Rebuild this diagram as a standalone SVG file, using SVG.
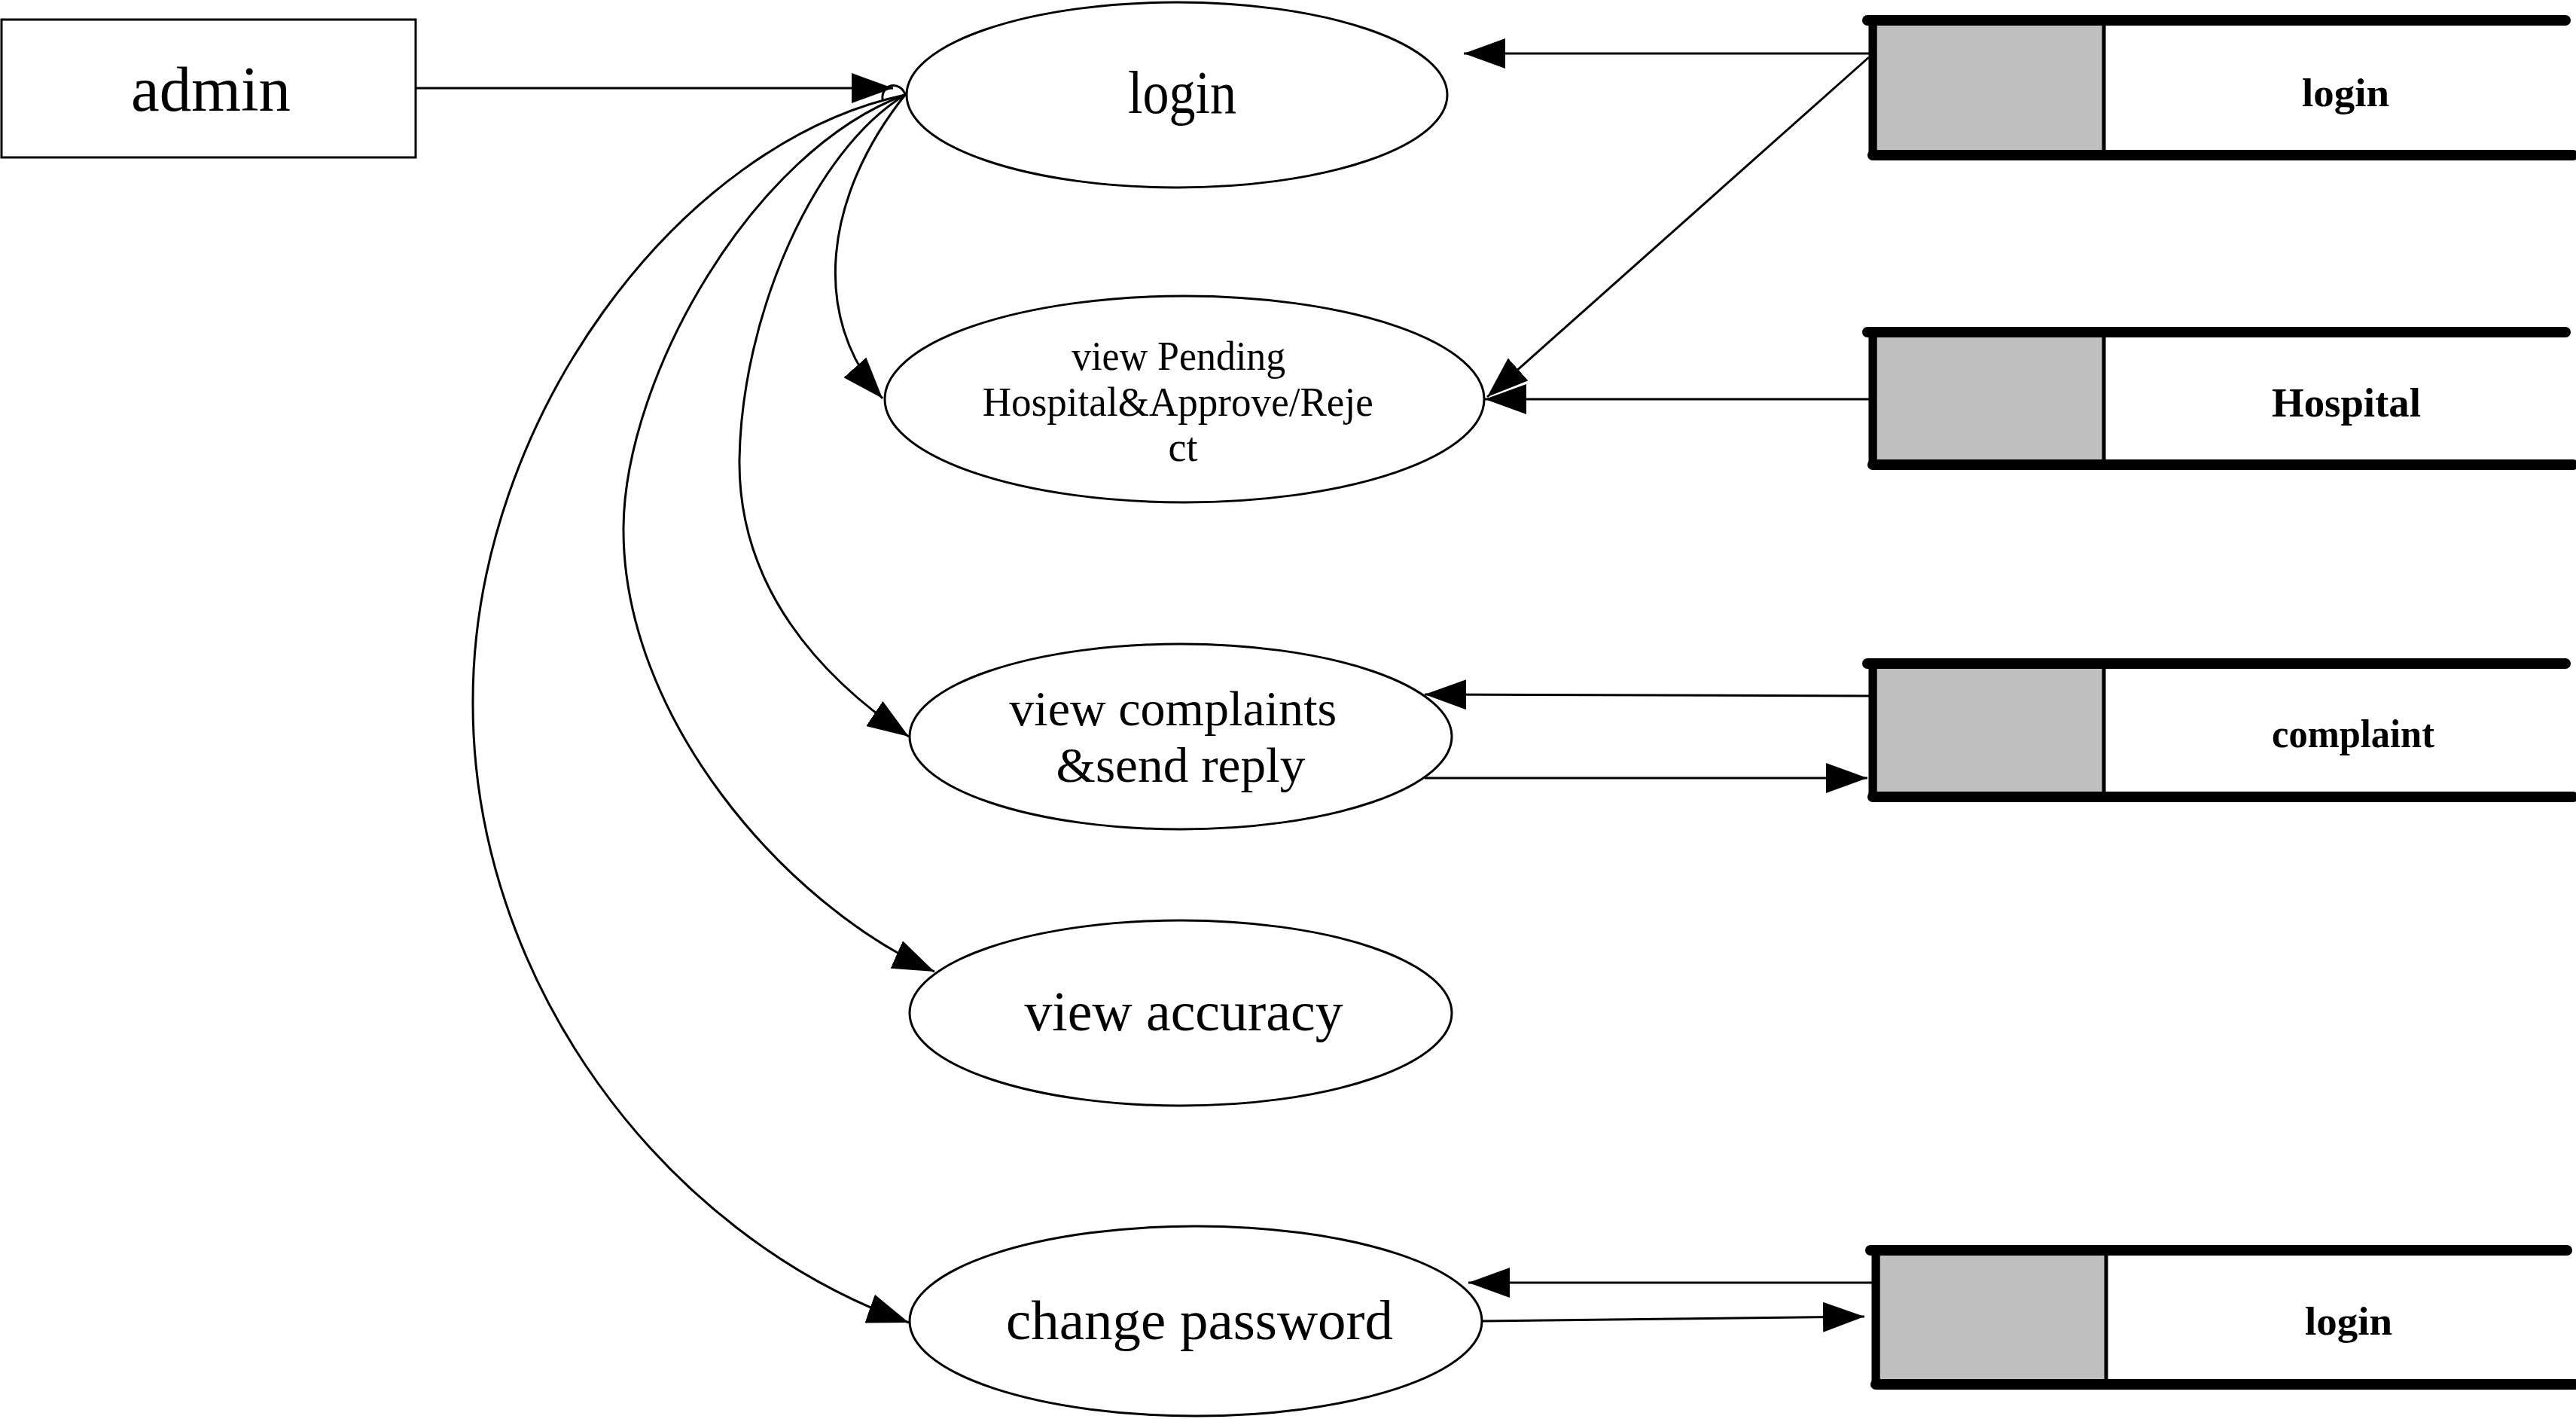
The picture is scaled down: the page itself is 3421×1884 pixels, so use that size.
<svg xmlns="http://www.w3.org/2000/svg" width="3421" height="1884" viewBox="0 0 3421 1884">
<style>
.box{fill:#fff;stroke:#000;stroke-width:3}
.proc{fill:#fff;stroke:#000;stroke-width:3}
.t{font-family:"Liberation Serif","Times New Roman",serif;fill:#000;text-anchor:middle}
.tb{font-family:"Liberation Serif","Times New Roman",serif;font-weight:bold;fill:#000;text-anchor:middle}
.bar{stroke:#000;stroke-width:14;stroke-linecap:round;fill:none}
.side{stroke:#000;stroke-width:11;fill:none}
.gray{fill:#c0c0c0;stroke:#000;stroke-width:5}
.c{fill:none;stroke:#000;stroke-width:3}
</style>
<defs>
<marker id="ah" markerUnits="userSpaceOnUse" markerWidth="56" markerHeight="40" refX="55" refY="20" orient="auto">
<path d="M0,0 L55,20 L0,40 Z" fill="#000"/>
</marker>
</defs>
<rect width="3421" height="1884" fill="#fff"/>

<g id="admin">
<rect class="box" x="2" y="26" width="550" height="183"/>
<text class="t" x="280" y="147" font-size="85" textLength="212" lengthAdjust="spacingAndGlyphs">admin</text>
</g>

<g id="p-login">
<ellipse class="proc" cx="1563" cy="126" rx="359" ry="123"/>
<text class="t" x="1570" y="150" font-size="80" textLength="144" lengthAdjust="spacingAndGlyphs">login</text>
</g>

<g id="p-pending">
<ellipse class="proc" cx="1573" cy="530" rx="398" ry="137"/>
<text class="t" font-size="54">
<tspan x="1572" y="491" textLength="284" lengthAdjust="spacingAndGlyphs">view Pending</tspan>
<tspan x="1571" y="552" textLength="519" lengthAdjust="spacingAndGlyphs">Hospital&amp;Approve/Reje</tspan>
<tspan x="1571" y="612">ct</tspan>
</text>
</g>

<g id="p-complaints">
<ellipse class="proc" cx="1568" cy="978" rx="360" ry="123"/>
<text class="t" font-size="66">
<tspan x="1566" y="963" textLength="435" lengthAdjust="spacingAndGlyphs">view complaints</tspan>
<tspan x="1568" y="1038" textLength="331" lengthAdjust="spacingAndGlyphs">&amp;send reply</tspan>
</text>
</g>

<g id="p-accuracy">
<ellipse class="proc" cx="1568" cy="1345" rx="360" ry="123"/>
<text class="t" x="1572" y="1368" font-size="74" textLength="423" lengthAdjust="spacingAndGlyphs">view accuracy</text>
</g>

<g id="p-changepw">
<ellipse class="proc" cx="1588" cy="1754" rx="380" ry="126"/>
<text class="t" x="1593" y="1778" font-size="75" textLength="514" lengthAdjust="spacingAndGlyphs">change password</text>
</g>

<g id="ds-login">
<rect class="gray" x="2490" y="31" width="304" height="171"/>
<line class="bar" x1="2480" y1="27" x2="3407" y2="27"/>
<line class="bar" x1="2487" y1="206" x2="3417" y2="206"/>
<line class="side" x1="2487" y1="27" x2="2487" y2="206"/>
<text class="tb" x="3115" y="141" font-size="52" textLength="116" lengthAdjust="spacingAndGlyphs">login</text>
</g>

<g id="ds-hospital">
<rect class="gray" x="2490" y="445" width="304" height="168"/>
<line class="bar" x1="2480" y1="441" x2="3407" y2="441"/>
<line class="bar" x1="2487" y1="617" x2="3417" y2="617"/>
<line class="side" x1="2487" y1="441" x2="2487" y2="617"/>
<text class="tb" x="3116" y="553" font-size="55" textLength="198" lengthAdjust="spacingAndGlyphs">Hospital</text>
</g>

<g id="ds-complaint">
<rect class="gray" x="2490" y="885" width="304" height="169"/>
<line class="bar" x1="2480" y1="881" x2="3407" y2="881"/>
<line class="bar" x1="2487" y1="1058" x2="3417" y2="1058"/>
<line class="side" x1="2487" y1="881" x2="2487" y2="1058"/>
<text class="tb" x="3125" y="992" font-size="52" textLength="216" lengthAdjust="spacingAndGlyphs">complaint</text>
</g>

<g id="ds-login2">
<rect class="gray" x="2494" y="1664" width="303" height="170"/>
<line class="bar" x1="2484" y1="1660" x2="3409" y2="1660"/>
<line class="bar" x1="2491" y1="1838" x2="3419" y2="1838"/>
<line class="side" x1="2491" y1="1660" x2="2491" y2="1838"/>
<text class="tb" x="3119" y="1772" font-size="52" textLength="116" lengthAdjust="spacingAndGlyphs">login</text>
</g>

<g id="connectors">
<line class="c" x1="552" y1="117" x2="1186" y2="117" marker-end="url(#ah)"/>
<path class="c" d="M1172,132 C1170,112 1195,105 1203,127"/>
<line class="c" x1="2482" y1="71" x2="1944" y2="71" marker-end="url(#ah)"/>
<line class="c" x1="2482" y1="76" x2="1975" y2="527" marker-end="url(#ah)"/>
<line class="c" x1="2482" y1="530" x2="1972" y2="530" marker-end="url(#ah)"/>
<line class="c" x1="2482" y1="924" x2="1892" y2="922" marker-end="url(#ah)"/>
<line class="c" x1="1892" y1="1033" x2="2480" y2="1033" marker-end="url(#ah)"/>
<line class="c" x1="2487" y1="1703" x2="1950" y2="1703" marker-end="url(#ah)"/>
<line class="c" x1="1969" y1="1754" x2="2476" y2="1748" marker-end="url(#ah)"/>
<path class="c" d="M1202,126 C1095,260 1075,420 1172,529" marker-end="url(#ah)"/>
<path class="c" d="M1202,126 C1080,200 985,420 982,610 C980,780 1090,900 1207,978" marker-end="url(#ah)"/>
<path class="c" d="M1202,126 C1000,200 830,500 828,700 C826,950 1040,1200 1241,1290" marker-end="url(#ah)"/>
<path class="c" d="M1202,126 C900,190 628,560 628,930 C626,1300 880,1640 1207,1756" marker-end="url(#ah)"/>
</g>
</svg>
